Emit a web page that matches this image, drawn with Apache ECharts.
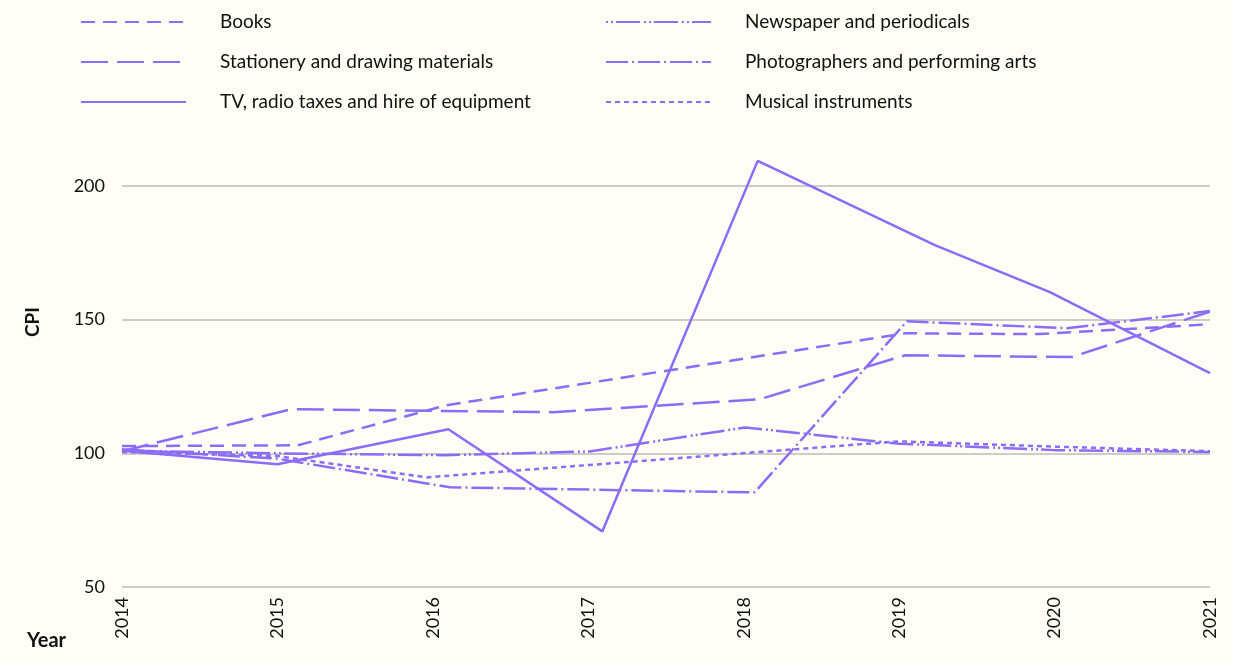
<!DOCTYPE html>
<html><head><meta charset="utf-8">
<script src="https://cdn.jsdelivr.net/npm/echarts@6/dist/echarts.min.js"></script>
<style>html,body{margin:0;padding:0;background:#fefef6}#c{width:1233px;height:664px}</style>
</head><body><div id="c"></div>
<script>
// Tick labels
const xTicks = [2014, 2015, 2016, 2017, 2018, 2019, 2020, 2021];
const yTicks = [50, 100, 150, 200];
// Series names
const names = [
  'Books',
  'Stationery and drawing materials',
  'TV, radio taxes and hire of equipment',
  'Newspaper and periodicals',
  'Photographers and performing arts',
  'Musical instruments'
];
// Series values: [year (date as fractional year), CPI]
const books = [[2014, 102.7], [2015.13, 103], [2016.09, 118], [2019.04, 144.9], [2019.9, 144.6], [2021, 148.3]];
const stationery = [[2014, 100.8], [2015.09, 116.5], [2016.77, 115.4], [2018.1, 120.2], [2019.04, 136.7], [2020.11, 136], [2021, 153]];
const tv = [[2014, 101], [2015, 95.9], [2016.1, 109], [2017.09, 70.8], [2018.09, 209.4], [2019.23, 177.9], [2019.97, 160.3], [2021, 130]];
const newspaper = [[2014, 101], [2015, 100], [2016.07, 99.3], [2017.01, 100.7], [2018.01, 109.7], [2019, 103.6], [2020, 101.2], [2021, 100.5]];
const photographers = [[2014, 101.5], [2015, 98], [2016.11, 87.3], [2018.07, 85.4], [2019.05, 149.4], [2020.08, 146.8], [2021, 153.2]];
const musical = [[2014, 100.5], [2015, 99], [2015.96, 91], [2019, 104.5], [2020, 102.5], [2021, 100.8]];

const dataList = [books, stationery, tv, newspaper, photographers, musical];
const dashes = [[14, 8], [27, 9], 'solid', [2, 3, 2, 3, 24, 4], [22, 4, 2, 4], [5, 4]];
const COLOR = '#8c6cf7';
const FONT = 'Lato, "Noto Sans", sans-serif';

const chart = echarts.init(document.getElementById('c'), null, {renderer: 'canvas'});
const legendCommon = {
  orient: 'vertical', top: 7, itemWidth: 105, itemHeight: 20, itemGap: 20,
  textStyle: {fontFamily: FONT, fontSize: 19, lineHeight: 20, color: '#111', padding: [0, 0, 0, 29]},
  itemStyle: {opacity: 0, borderWidth: 0},
  selectedMode: false
};
chart.setOption({
  backgroundColor: '#fefef6',
  animation: false,
  legend: [
    Object.assign({left: 75, data: [names[0], names[1], names[2]]}, legendCommon),
    Object.assign({left: 600, data: [names[3], names[4], names[5]]}, legendCommon)
  ],
  grid: {left: 122, right: 23, top: 186, bottom: 77, containLabel: false},
  xAxis: {
    type: 'value', min: xTicks[0], max: xTicks[xTicks.length - 1], interval: 1,
    axisLine: {show: false}, axisTick: {show: false}, splitLine: {show: false},
    axisLabel: {rotate: 90, margin: 10, fontFamily: FONT, fontSize: 18, color: '#111',
      formatter: v => xTicks.includes(v) ? String(v) : ''}
  },
  yAxis: {
    type: 'value', min: yTicks[0], max: yTicks[yTicks.length - 1], interval: 50,
    axisLine: {show: false}, axisTick: {show: false},
    splitLine: {lineStyle: {color: '#bdbdb8', width: 1.5}},
    axisLabel: {margin: 17, fontFamily: FONT, fontSize: 18, color: '#111'}
  },
  graphic: [
    {type: 'text', x: 33, y: 322, rotation: Math.PI / 2,
      style: {text: 'CPI', font: 'bold 19px ' + FONT, fill: '#111', align: 'center', verticalAlign: 'middle'}},
    {type: 'text', x: 27, y: 641,
      style: {text: 'Year', font: 'bold 20px ' + FONT, fill: '#111', align: 'left', verticalAlign: 'middle'}}
  ],
  series: names.map((n, i) => ({
    name: n, type: 'line', data: dataList[i], symbol: 'none', clip: false,
    lineStyle: {color: COLOR, width: 2.5, type: dashes[i]},
    itemStyle: {color: COLOR}
  }))
});
</script></body></html>
